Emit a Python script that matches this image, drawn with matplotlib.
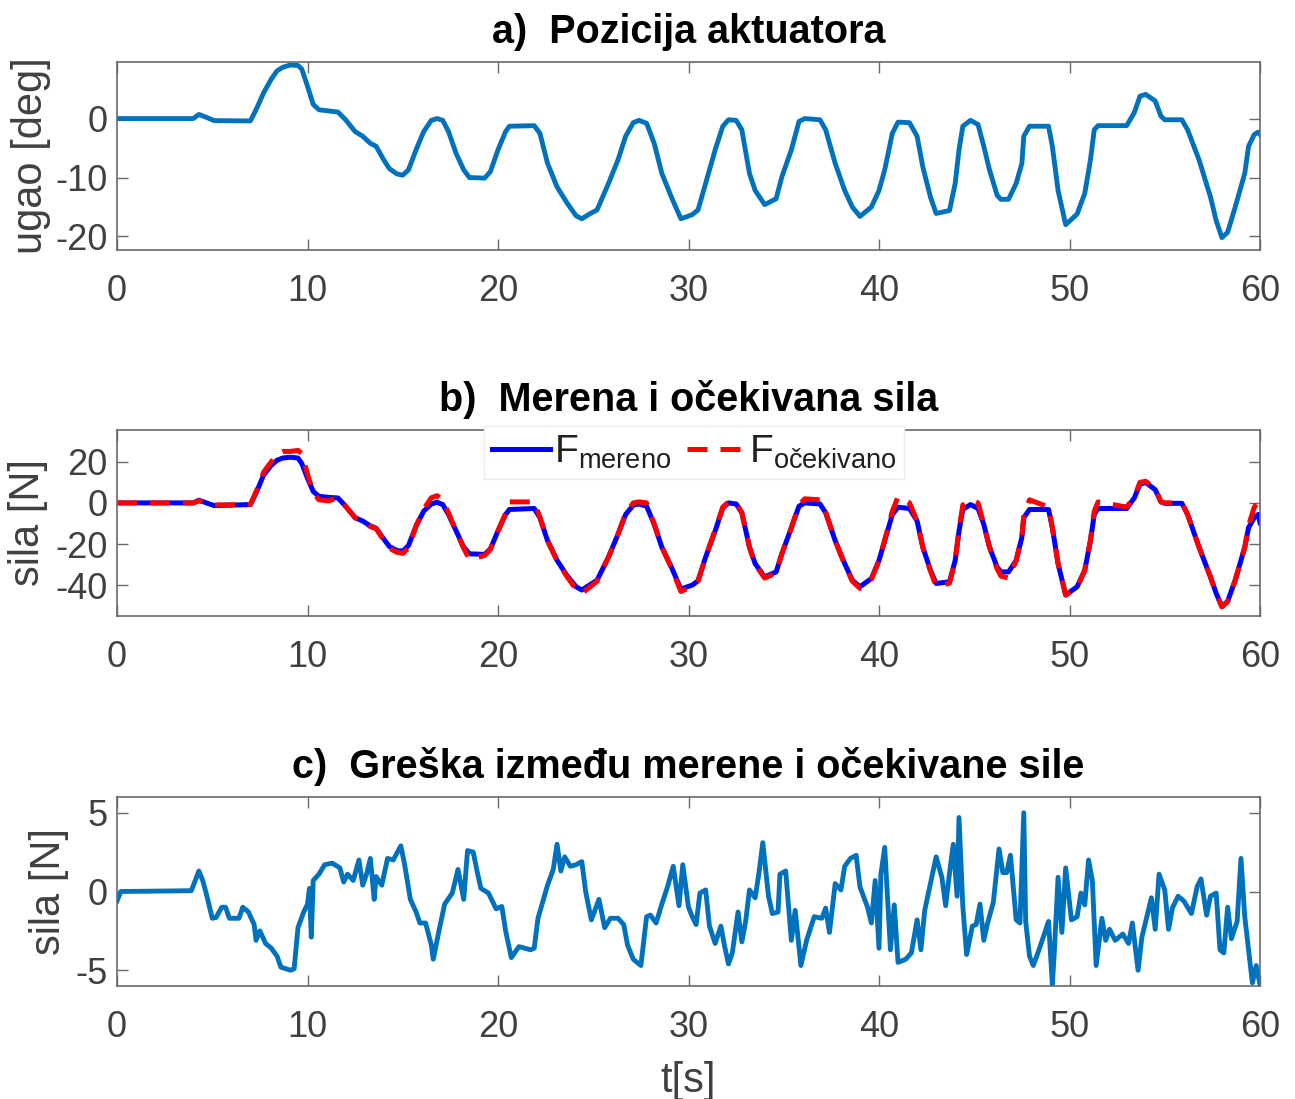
import numpy as np
import matplotlib
matplotlib.use('Agg')
import matplotlib.pyplot as plt

# time samples read off for panels a) and b) [s]
t_ab = [0, 4.0, 4.3, 4.7, 5.1, 7.0, 7.3, 7.7, 8.1, 8.4,
        8.7, 9.1, 9.5, 9.7, 10.0, 10.3, 10.6, 11.1, 11.6, 12.0,
        12.5, 12.9, 13.3, 13.6, 14.0, 14.3, 14.7, 15.0, 15.3, 15.7,
        16.1, 16.5, 16.8, 17.1, 17.4, 17.8, 18.2, 18.5, 19.3, 19.6,
        20.0, 20.4, 20.6, 21.9, 22.2, 22.6, 23.1, 23.6, 24.1, 24.4,
        24.8, 25.2, 25.8, 26.3, 26.7, 27.1, 27.4, 27.8, 28.2, 28.6,
        29.1, 29.6, 30.2, 30.5, 30.9, 31.4, 31.8, 32.1, 32.5, 32.8,
        33.2, 33.5, 34.0, 34.6, 34.9, 35.4, 35.8, 36.1, 36.9, 37.2,
        37.7, 38.2, 38.6, 39.0, 39.6, 40.0, 40.3, 40.7, 41.0, 41.6,
        42.0, 42.3, 42.7, 43.0, 43.7, 44.0, 44.2, 44.4, 44.8, 45.2,
        45.5, 45.8, 46.2, 46.4, 46.8, 47.2, 47.5, 47.6, 47.9, 48.9,
        49.1, 49.4, 49.8, 50.4, 50.8, 51.1, 51.3, 51.5, 53.0, 53.4,
        53.7, 54.0, 54.5, 54.8, 55.0, 55.9, 56.2, 56.8, 57.4, 57.7,
        58.0, 58.3, 58.7, 59.2, 59.4, 59.7, 59.9, 60.0]

# a) actuator position [deg]
ugao = [0, 0, 0.7, 0.2, -0.35, -0.4, 1.5, 4.4, 6.7, 8.1,
        8.7, 9.1, 9.0, 8.4, 5.5, 2.4, 1.5, 1.3, 1.1, -0.2,
        -2.2, -3.0, -4.2, -4.7, -7.0, -8.5, -9.4, -9.6, -8.7, -5.3,
        -2.2, -0.3, 0, -0.3, -2.2, -5.9, -8.7, -10, -10.1, -9.0,
        -5.3, -2.2, -1.3, -1.2, -2.5, -7.6, -11.6, -14.2, -16.5, -17,
        -16.2, -15.5, -11, -7, -3, -0.7, -0.3, -0.8, -4.2, -9.3,
        -13.3, -17, -16.3, -15.5, -11, -5.3, -1.3, -0.2, -0.3, -1.9,
        -9.3, -12.2, -14.6, -13.6, -9.9, -5.3, -0.5, 0, -0.2, -1.9,
        -7.6, -12.2, -15, -16.6, -15, -12.2, -8.7, -2.5, -0.6, -0.7,
        -3, -8.2, -13.3, -16.1, -15.6, -11, -5.3, -1.3, -0.3, -1,
        -4.7, -8.7, -13, -13.7, -13.7, -11, -7.6, -3, -1.3, -1.3,
        -4.7, -12.2, -18, -16.2, -12.7, -7, -1.9, -1.2, -1.2, 1,
        3.8, 4.1, 3.0, 0.4, -0.2, -0.2, -1.9, -7, -13.3, -17.3,
        -20.2, -19.3, -15, -9.3, -4.7, -2.7, -2.3, -2.7]

# b) measured and expected force [N]
sila_mereno = [0, 0, 1.3, 0, -1.3, -0.8, 4.8, 13.6, 18.3, 20.7,
               21.8, 22.2, 21.8, 19.1, 12, 5.6, 3.2, 2.7, 2.4, -1.6,
               -7.2, -8.8, -11.2, -12.3, -17.5, -21.2, -23.1, -23.4, -20.7, -11.2,
               -4, -0.5, 0.3, -0.8, -5.6, -13.6, -21.5, -24.7, -25, -22.3,
               -13.6, -5.6, -3.2, -2.7, -7.2, -18.3, -27.9, -35, -40.7, -42.3,
               -39.9, -37.5, -26.3, -15.2, -5.6, -1.1, -0.5, -1.6, -10.4, -21.5,
               -31.1, -41.8, -39.9, -37.8, -26.3, -13.6, -2.4, 0, -0.5, -4.8,
               -21.5, -29.5, -35.9, -33.5, -24.7, -12, -1.6, 0, -0.5, -4.8,
               -18.3, -29.5, -37.5, -40.7, -36.7, -27.9, -18.3, -5.6, -2.1, -2.7,
               -8.8, -21.5, -32.7, -39.1, -38.3, -27.9, -13.6, -3.2, -0.8, -2.7,
               -10.4, -21.5, -31.1, -33.5, -33.5, -27.9, -16.7, -7.2, -3.2, -3.2,
               -12, -29.5, -44.7, -40.7, -32.7, -18.3, -5.6, -2.7, -2.7, 2.4,
               9.1, 9.9, 6.4, 0.5, -0.2, -0.2, -5.6, -21.5, -35.9, -43.9,
               -50.2, -47.8, -37.5, -21.5, -12, -7.2, -5.6, -9.6]
sila_ocekivano = [0, 0, 1.0, 0, -1.0, -0.8, 5.5, 15, 20, 24,
                  25, 25, 25.5, 24, 14, 5, 1.5, 1.0, 2.5, -1.6,
                  -7.2, -8.8, -11.5, -12.5, -18, -22, -24, -24.5, -22, -11.2,
                  -3, 2.5, 3.5, 1.5, -5, -13.6, -22, -27.5, -25.5, -22.5,
                  -13.6, -5, 0.5, 0.5, -7, -18.3, -28, -35.5, -42, -44,
                  -41, -38, -26.3, -15.2, -5, 0, 0.5, 0, -10.4, -21.5,
                  -31.5, -43, -40.5, -38, -26.3, -13, -2, 0.5, 0, -4.8,
                  -21.5, -30, -36.5, -34, -24.7, -12, -1, 2, 1.5, -4.5,
                  -18.3, -30, -38, -41.5, -37, -28, -18, -4, 3, 0,
                  -8.8, -21.5, -33, -40.5, -39, -28, -13, -1, 1.5, 0,
                  -10.4, -21.5, -32, -35.5, -36.5, -28, -16, -6, 1.5, -2,
                  -12, -29.5, -44.7, -41, -32.7, -18, -4, 0.5, -2, 3,
                  10, 10.5, 7, 0.5, 0, 0, -5.6, -21.5, -36, -44,
                  -50.5, -48, -37.5, -21.5, -11, -2, 0, -3]

# c) error between measured and expected force [N]
t_greska = [0, 0.2, 3.9, 4.3, 4.5, 4.7, 5.0, 5.2, 5.5, 5.7, 5.9, 6.4, 6.6, 6.9, 7.2, 7.3,
            7.5, 7.8, 8.1, 8.4, 8.6, 9.1, 9.3, 9.5, 9.8, 10.0, 10.1, 10.2, 10.3, 10.6, 10.9,
            11.3, 11.7, 11.9, 12.1, 12.4, 12.7, 12.9, 13.1, 13.3, 13.5, 13.6, 13.9, 14.2, 14.5,
            14.9, 15.1, 15.4, 15.7, 15.9, 16.2, 16.5, 16.6, 16.9, 17.2, 17.6, 17.9, 18.2, 18.4,
            18.7, 18.9, 19.1, 19.5, 19.9, 20.2, 20.4, 20.7, 21.1, 21.7, 21.9, 22.1, 22.3, 22.6,
            22.9, 23.1, 23.3, 23.5, 23.8, 24.1, 24.4, 24.6, 24.9, 25.3, 25.6, 25.9, 26.3, 26.6,
            26.8, 27.1, 27.5, 27.8,
            28.0, 28.3, 28.6, 28.9, 29.2, 29.5, 29.7, 30.0, 30.2, 30.4, 30.6, 30.9, 31.1, 31.4,
            31.7, 31.9, 32.1, 32.3, 32.6, 32.8, 33.0, 33.2, 33.5, 33.7, 33.9, 34.2, 34.4, 34.7,
            34.8, 35.1, 35.4, 35.6, 35.9, 36.2, 36.6, 37.0, 37.2, 37.4, 37.7, 38.0, 38.2, 38.5,
            38.8, 39.0, 39.4, 39.6, 39.8, 40.0, 40.1, 40.3, 40.6, 40.8, 41.0, 41.4, 41.7, 42.0,
            42.2, 42.4, 42.7, 43.0, 43.3, 43.5, 43.7, 43.9, 44.1, 44.2, 44.4, 44.6, 44.9, 45.1,
            45.3, 45.5, 45.7, 46.0, 46.3, 46.5, 46.7, 46.9, 47.2, 47.4, 47.6, 47.7, 47.9, 48.1,
            48.4, 48.9, 49.1, 49.2, 49.4, 49.6, 49.8, 50.1, 50.4, 50.6, 50.8, 51.0, 51.2, 51.4,
            51.7, 51.9, 52.1, 52.4, 52.8, 53.1, 53.3, 53.6, 53.8, 54.1, 54.3, 54.5, 54.7, 55.0,
            55.2, 55.4, 55.7, 56.0, 56.4, 56.7, 56.9, 57.2, 57.4, 57.7, 57.9, 58.1, 58.3, 58.5,
            58.8, 59.0, 59.2, 59.4, 59.6, 59.8, 60.0]
greska = [-0.6, 0, 0.05, 1.3, 0.7, -0.2, -1.7, -1.65, -1.0, -1.0, -1.7, -1.7, -1.0, -1.3, -2.1, -3.1,
          -2.5, -3.3, -3.6, -4.1, -4.8, -5.0, -4.9, -2.3, -1.3, -0.8, 0.2, -2.9, 0.7, 1.1, 1.7,
          1.8, 1.5, 0.6, 1.1, 0.7, 2.0, 0.4, 1.1, 2.1, -0.5, 0.95, 0.4, 2.1, 2.0,
          2.9, 1.7, -0.5, -1.3, -2.0, -2.0, -3.4, -4.3, -2.5, -0.8, -0.1, 1.4, -0.5, 2.6,
          2.5, 1.3, 0.2, -0.1, -1.1, -0.95, -2.5, -4.2, -3.5, -3.7, -3.6, -1.7, -0.85, 0.4,
          1.4, 3.0, 1.3, 2.2, 1.6, 1.7, 1.9, 0, -1.8, -0.5, -2.3, -1.7, -1.7, -2.1,
          -3.4, -4.3, -4.7, -1.6,
          -1.5, -2.0, -0.8, 0.3, 1.6, -0.9, 1.7, -1.0, -1.6, -2.1, -0.1, 0.1, -2.2, -3.3,
          -2.2, -3.5, -4.6, -3.9, -1.3, -3.2, -1.9, 0.1, -0.4, 1.2, 3.1, -0.3, -1.4, -1.3,
          1.1, 1.3, -3.1, -1.2, -4.7, -3.1, -1.6, -1.7, -1.05, -2.6, 0.5, 0.1, 1.6, 2.1,
          2.3, 0.3, -1.0, -2.0, 0.7, -3.6, 1.1, 2.8, -3.7, -0.85, -4.5, -4.3, -3.9, -1.8,
          -3.7, -1.2, 0.5, 2.2, 0.9, -0.9, 1.15, 3.0, -0.3, 4.7, -0.95, -4.0, -2.2, -2.1,
          -0.8, -3.1, -2.0, -0.7, 2.7, 1.2, 1.2, 2.3, -1.8, -2.0, 5.0, -1.9, -4.1, -4.7,
          -3.7, -1.9, -5.9, -3.9, 0.9, -2.6, 1.5, -1.8, -1.6, -0.1, -0.85, 2.0, 0.7, -4.7,
          -1.7, -3.1, -2.4, -3.1, -2.7, -3.3, -2.0, -5.0, -2.9, -1.4, -0.4, -2.4, 1.1, 0.1,
          -2.4, -1.05, -0.3, -0.6, -1.4, 0.3, 0.8, -1.5, -0.3, -0.1, -3.7, -3.9, -1.0, -3.0,
          -1.9, 2.1, -1.6, -3.7, -5.8, -4.7, -5.9]

assert len(t_ab) == len(ugao) == len(sila_mereno) == len(sila_ocekivano)
assert len(t_greska) == len(greska)

plt.rcParams['font.family'] = ['Liberation Sans', 'DejaVu Sans']
plt.rcParams['mathtext.fontset'] = 'custom'
plt.rcParams['mathtext.rm'] = 'Liberation Sans'
plt.rcParams['axes.unicode_minus'] = False

tick_col = '#404040'
edge_col = '#6a6a6a'
fs = 26

fig = plt.figure(figsize=(12.95, 10.99), dpi=100)
W, H = 1295, 1099
boxes = [(62, 250), (430, 616), (797, 986)]
axes = []
for top, bot in boxes:
    ax = fig.add_axes([117 / W, 1 - bot / H, 1143 / W, (bot - top) / H])
    axes.append(ax)

ax1, ax2, ax3 = axes
ax1.plot(t_ab, ugao, color='#0072BD', lw=3.5, solid_joinstyle='round')
ax2.plot(t_ab, sila_mereno, color='#0000FF', lw=3.6, label=r'F$_{\mathregular{mereno}}$',
         solid_joinstyle='round')
ax2.plot(t_ab, sila_ocekivano, color='#FF0000', lw=3.6, linestyle=(0, (4, 2.6)),
         label=r'F$_{\mathregular{očekivano}}$')
ax3.plot(t_greska, greska, color='#0072BD', lw=3.5, solid_joinstyle='round')

ax1.set_ylim(-22.3, 9.6)
ax1.set_yticks([-20, -10, 0])
ax2.set_ylim(-54.9, 35.4)
ax2.set_yticks([-40, -20, 0, 20])
ax3.set_ylim(-6.0, 6.0)
ax3.set_yticks([-5, 0, 5])

titles = ['a)  Pozicija aktuatora', 'b)  Merena i očekivana sila',
          'c)  Greška između merene i očekivane sile']
ylabels = ['ugao [deg]', 'sila [N]', 'sila [N]']
ylab_x = [-0.058, -0.06, -0.042]
for ax, ttl, yl, lx in zip(axes, titles, ylabels, ylab_x):
    ax.set_xlim(0, 60)
    ax.set_xticks(range(0, 61, 10))
    ax.set_title(ttl, fontsize=28.5, fontweight='bold', pad=14)
    ax.set_ylabel(yl, fontsize=30, color=tick_col)
    ax.yaxis.set_label_coords(lx, 0.5)
    ax.tick_params(direction='in', length=8, width=1, colors=edge_col, labelcolor=tick_col,
                   labelsize=fs, top=True, right=True)
    ax.tick_params(axis='x', pad=17)
    ax.tick_params(axis='y', pad=7)
    for s in ax.spines.values():
        s.set_color(edge_col)
        s.set_linewidth(1.2)

ax3.set_xlabel('t[s]', fontsize=30, color=tick_col, labelpad=12)

leg = ax2.legend(loc='upper center', bbox_to_anchor=(0.505, 1.02), ncol=2, fontsize=28,
                 frameon=True, fancybox=False, framealpha=1, edgecolor='#ececec',
                 handlelength=1.5, handletextpad=0.1, columnspacing=0.4, borderpad=0.2,
                 borderaxespad=0)
leg.get_frame().set_linewidth(1)
for txt in leg.get_texts():
    txt.set_color('#202020')

fig.savefig('out.png', dpi=100)
